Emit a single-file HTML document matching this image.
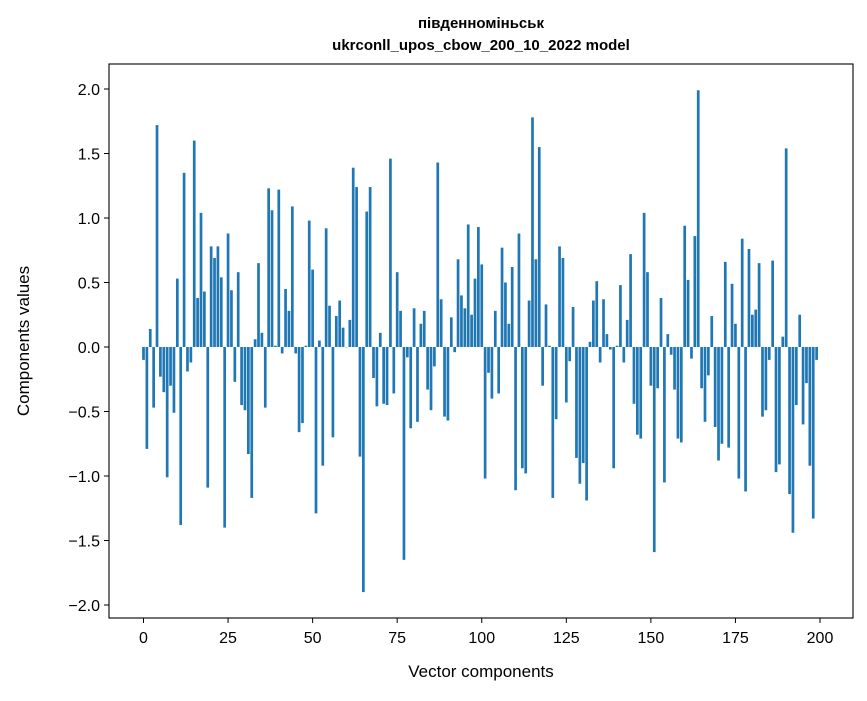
<!DOCTYPE html>
<html><head><meta charset="utf-8"><style>
body{margin:0;background:#fff;font-family:"Liberation Sans",sans-serif;}
svg text{font-family:"Liberation Sans","DejaVu Sans",sans-serif;}
</style></head><body>
<svg id="chart" width="867" height="696" xmlns="http://www.w3.org/2000/svg">
<rect width="867" height="696" fill="#fff"/>
<text x="481" y="28" text-anchor="middle" font-size="15" font-weight="bold">південноміньськ</text>
<text x="481" y="50" text-anchor="middle" font-size="15" font-weight="bold">ukrconll_upos_cbow_200_10_2022 model</text>
<g id="bars"></g>
<g id="axes"></g>
<rect x="109" y="64" width="744" height="554" fill="none" stroke="#000" stroke-width="1.1"/>
<text x="481" y="677" text-anchor="middle" font-size="17">Vector components</text>
<text transform="translate(29,341) rotate(-90)" text-anchor="middle" font-size="17">Components values</text>
</svg>
<script>
const values = [-0.1,-0.79,0.14,-0.47,1.72,-0.23,-0.35,-1.01,-0.30,-0.51,0.53,-1.38,1.35,-0.19,-0.12,1.60,0.38,1.04,0.43,-1.09,
0.78,0.69,0.78,0.54,-1.40,0.88,0.44,-0.27,0.58,-0.45,-0.49,-0.83,-1.17,0.06,0.65,0.11,-0.47,1.23,1.06,0.01,
1.22,-0.05,0.45,0.28,1.09,-0.05,-0.66,-0.59,0.01,0.98,0.60,-1.29,0.05,-0.92,0.92,0.32,-0.70,0.24,0.36,0.15,
0.0,0.21,1.39,1.24,-0.85,-1.90,1.05,1.24,-0.24,-0.46,0.11,-0.44,-0.45,1.46,-0.36,0.58,0.28,-1.65,-0.08,-0.63,
0.30,-0.58,0.18,0.28,-0.33,-0.49,-0.15,1.43,0.37,-0.54,-0.57,0.23,-0.04,0.68,0.40,0.30,0.95,0.25,0.53,0.93,
0.64,-1.02,-0.20,-0.40,0.28,-0.36,0.77,0.50,0.18,0.62,-1.11,0.88,-0.94,-0.98,0.36,1.78,0.68,1.55,-0.30,0.33,
0.01,-1.17,-0.56,0.78,0.69,-0.43,-0.11,0.31,-0.86,-1.06,-0.90,-1.19,0.04,0.36,0.51,-0.12,0.37,0.10,-0.02,-0.94,
0.01,0.48,-0.12,0.21,0.72,-0.44,-0.68,-0.71,1.04,0.58,-0.30,-1.59,-0.32,0.38,-1.05,0.10,-0.06,-0.33,-0.71,-0.74,
0.94,0.52,-0.09,0.86,1.99,-0.32,-0.58,-0.22,0.24,-0.62,-0.88,-0.75,0.66,-0.78,0.49,0.18,-1.02,0.84,-1.12,0.76,
0.25,0.29,0.65,-0.54,-0.49,-0.10,0.67,-0.97,-0.91,0.08,1.54,-1.14,-1.44,-0.45,0.25,-0.60,-0.28,-0.92,-1.33,-0.10];
const xTicks = [0,25,50,75,100,125,150,175,200];
const yTicks = [-2.0,-1.5,-1.0,-0.5,0.0,0.5,1.0,1.5,2.0];
const NS="http://www.w3.org/2000/svg";
function xs(v){return 143.5+(820-143.5)*v/200;}
function ys(v){return 347-129*v;}
const bars=document.getElementById('bars');
const bw=(xs(1)-xs(0))*0.8;
values.forEach((v,i)=>{
  const r=document.createElementNS(NS,'rect');
  
  
  r.setAttribute('x',xs(i)-bw/2);
  r.setAttribute('y',Math.min(ys(v),ys(0)));
  r.setAttribute('width',bw);
  r.setAttribute('height',Math.max(Math.abs(ys(v)-ys(0)),0.3));
  r.setAttribute('fill','#1f77b4');
  bars.appendChild(r);
});
const axes=document.getElementById('axes');
xTicks.forEach(t=>{
  const l=document.createElementNS(NS,'line');
  
  
  l.setAttribute('x1',xs(t));l.setAttribute('x2',xs(t));l.setAttribute('y1',618);l.setAttribute('y2',623);
  l.setAttribute('stroke','#000');
  axes.appendChild(l);
  const tx=document.createElementNS(NS,'text');
  
  
  tx.setAttribute('x',xs(t));tx.setAttribute('y',643);tx.setAttribute('text-anchor','middle');tx.setAttribute('font-size','16');
  tx.textContent=t;
  axes.appendChild(tx);
});
yTicks.forEach(t=>{
  const l=document.createElementNS(NS,'line');
  
  
  l.setAttribute('x1',104);l.setAttribute('x2',109);l.setAttribute('y1',ys(t));l.setAttribute('y2',ys(t));
  l.setAttribute('stroke','#000');
  axes.appendChild(l);
  const tx=document.createElementNS(NS,'text');
  
  
  tx.setAttribute('x',100);tx.setAttribute('y',ys(t)+6);tx.setAttribute('text-anchor','end');tx.setAttribute('font-size','16');
  tx.textContent=(t<0?'\u2212':'')+Math.abs(t).toFixed(1);
  axes.appendChild(tx);
});
</script>
</body></html>
